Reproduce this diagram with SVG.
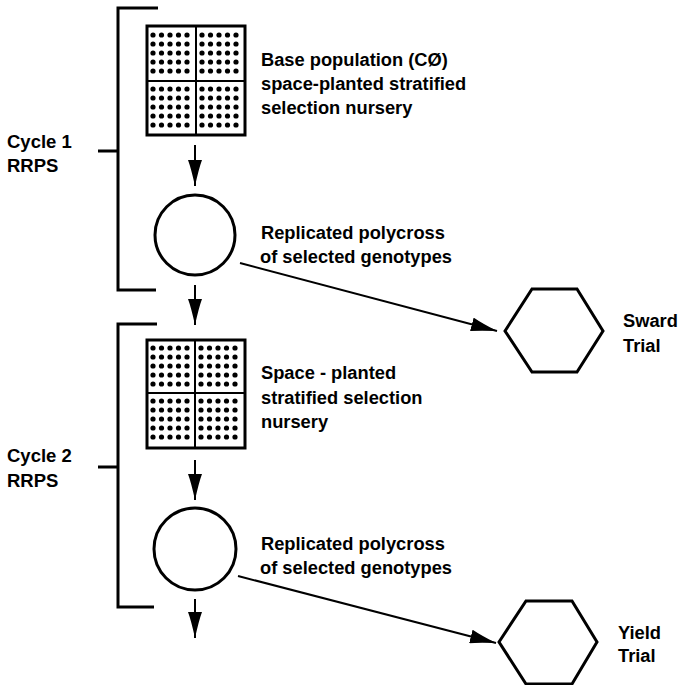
<svg xmlns="http://www.w3.org/2000/svg" xmlns:xlink="http://www.w3.org/1999/xlink" width="678" height="685" viewBox="0 0 678 685">
<style>
text{font-family:"Liberation Sans",Arial,Helvetica,sans-serif;font-weight:bold;fill:#000;}
.lbl{font-size:18.3px;}
.cyc{font-size:18.5px;}
.box{fill:#fff;stroke:#000;stroke-width:3;}
.inner{stroke:#000;stroke-width:2;fill:none;}
.shape{fill:#fff;stroke:#000;stroke-width:3;}
.brk{fill:none;stroke:#000;stroke-width:3;}
.con{fill:none;stroke:#000;stroke-width:2;marker-end:url(#ah);}
</style>
<defs>
<marker id="ah" viewBox="0 0 26 14" markerWidth="26" markerHeight="14" refX="26" refY="7" orient="auto" markerUnits="userSpaceOnUse">
<path d="M0,0 Q8,3 26,7 Q8,11 0,14 z" fill="#000"/>
</marker>
<g id="dots">
<circle cx="6" cy="9" r="2.6"/><circle cx="14.5" cy="9" r="2.6"/><circle cx="23" cy="9" r="2.6"/><circle cx="31.5" cy="9" r="2.6"/><circle cx="40" cy="9" r="2.6"/>
<circle cx="6" cy="18" r="2.6"/><circle cx="14.5" cy="18" r="2.6"/><circle cx="23" cy="18" r="2.6"/><circle cx="31.5" cy="18" r="2.6"/><circle cx="40" cy="18" r="2.6"/>
<circle cx="6" cy="27" r="2.6"/><circle cx="14.5" cy="27" r="2.6"/><circle cx="23" cy="27" r="2.6"/><circle cx="31.5" cy="27" r="2.6"/><circle cx="40" cy="27" r="2.6"/>
<circle cx="6" cy="36" r="2.6"/><circle cx="14.5" cy="36" r="2.6"/><circle cx="23" cy="36" r="2.6"/><circle cx="31.5" cy="36" r="2.6"/><circle cx="40" cy="36" r="2.6"/>
<circle cx="6" cy="45" r="2.6"/><circle cx="14.5" cy="45" r="2.6"/><circle cx="23" cy="45" r="2.6"/><circle cx="31.5" cy="45" r="2.6"/><circle cx="40" cy="45" r="2.6"/>
</g>
</defs>
<rect x="0" y="0" width="678" height="685" fill="#fff"/>

<g id="bracket1">
<path class="brk" d="M158,8 H118 V290 H156 M98,151 H118"/>
<text class="cyc" x="7" y="148">Cycle 1</text>
<text class="cyc" x="7" y="172">RRPS</text>
</g>
<g id="bracket2">
<path class="brk" d="M157,324 H118 V607 H154 M98,467 H118"/>
<text class="cyc" x="7" y="462">Cycle 2</text>
<text class="cyc" x="7" y="487">RRPS</text>
</g>

<g id="grid1">
<rect class="box" x="147" y="26" width="98" height="109"/>
<path class="inner" d="M147,81 H245 M196,26 V135"/>
<use xlink:href="#dots" x="147" y="26"/>
<use xlink:href="#dots" x="196" y="26"/>
<use xlink:href="#dots" x="147" y="80"/>
<use xlink:href="#dots" x="196" y="80"/>
<text class="lbl" x="261" y="66">Base population (CØ)</text>
<text class="lbl" x="261" y="90">space-planted stratified</text>
<text class="lbl" x="261" y="114">selection nursery</text>
</g>

<g id="circle1">
<circle class="shape" cx="195" cy="235" r="40"/>
<text class="lbl" x="261" y="239">Replicated polycross</text>
<text class="lbl" x="260" y="263">of selected genotypes</text>
</g>

<g id="sward">
<polygon class="shape" points="505,331 532,289 577,289 603,331 577,372 532,372"/>
<text class="lbl" x="623" y="327">Sward</text>
<text class="lbl" x="623" y="352">Trial</text>
</g>

<g id="grid2">
<rect class="box" x="147" y="340" width="98" height="108"/>
<path class="inner" d="M147,393 H245 M195,340 V448"/>
<use xlink:href="#dots" x="147" y="339"/>
<use xlink:href="#dots" x="195" y="339"/>
<use xlink:href="#dots" x="147" y="392"/>
<use xlink:href="#dots" x="195" y="392"/>
<text class="lbl" x="261" y="379">Space - planted</text>
<text class="lbl" x="261" y="404">stratified selection</text>
<text class="lbl" x="261" y="428">nursery</text>
</g>

<g id="circle2">
<circle class="shape" cx="195" cy="549" r="41"/>
<text class="lbl" x="261" y="550">Replicated polycross</text>
<text class="lbl" x="260" y="574">of selected genotypes</text>
</g>

<g id="yield">
<polygon class="shape" points="499,642 526,601 572,601 597,642 572,684 526,684"/>
<text class="lbl" x="618" y="639">Yield</text>
<text class="lbl" x="618" y="662">Trial</text>
</g>

<g id="connectors">
<line class="con" x1="195" y1="145" x2="195" y2="186"/>
<line class="con" x1="195" y1="285" x2="195" y2="325"/>
<line class="con" x1="195" y1="460" x2="195" y2="500"/>
<line class="con" x1="195" y1="599" x2="195" y2="638"/>
<line class="con" x1="240" y1="263" x2="497" y2="331"/>
<line class="con" x1="238" y1="576" x2="496" y2="643"/>
</g>
</svg>
